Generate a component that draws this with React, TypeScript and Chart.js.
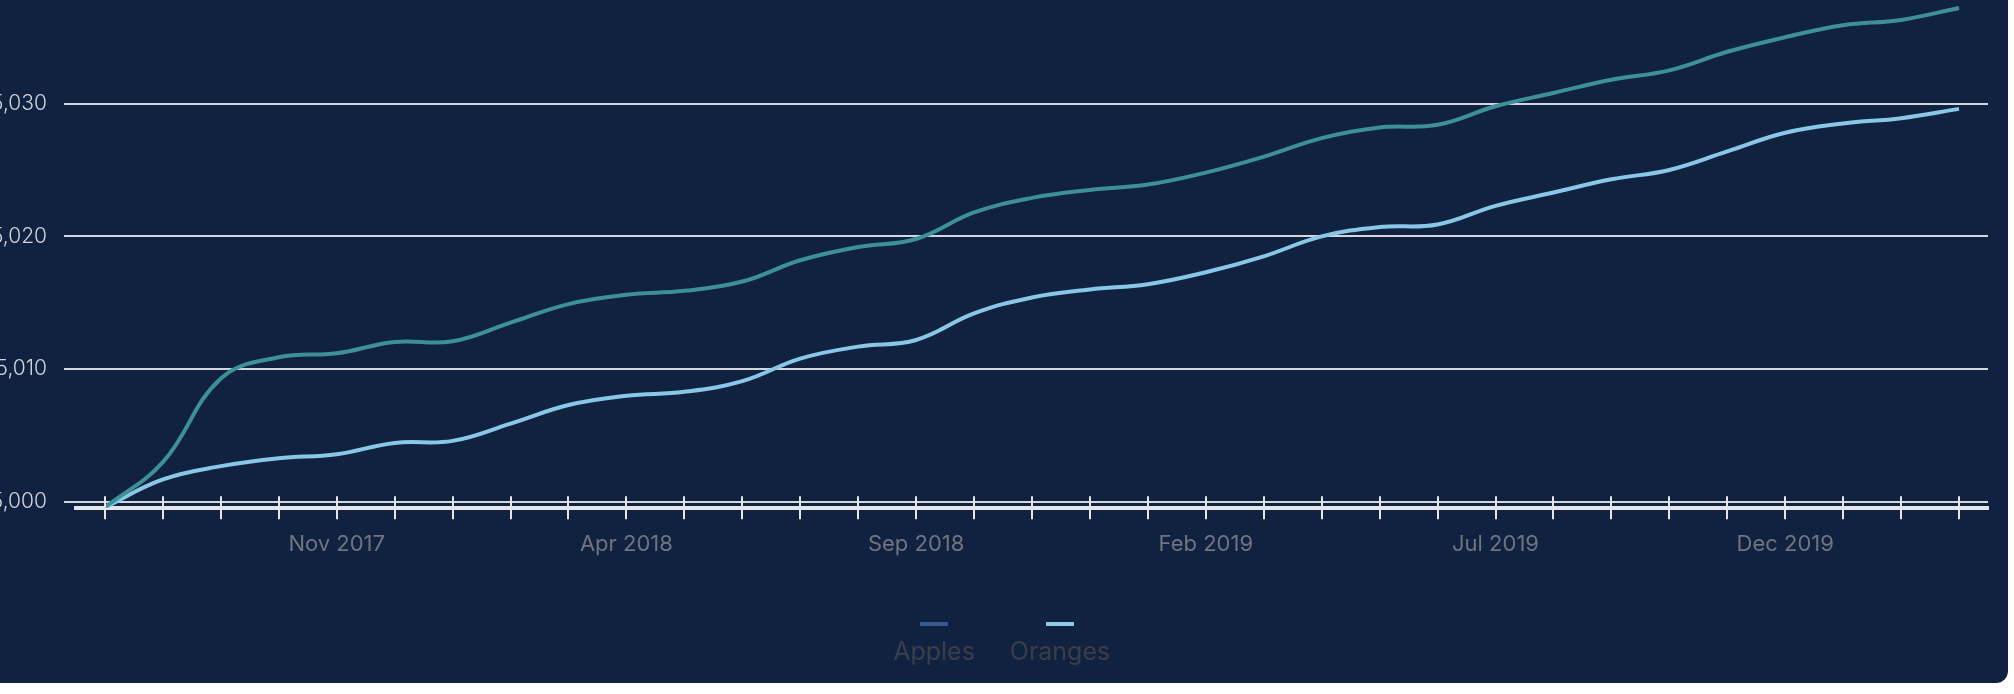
import React, { useEffect, useRef } from "react";
import { Chart, registerables } from "chart.js";

Chart.register(...registerables);

// Monthly categories, Jul 2017 – Mar 2020
const months = [
  "Jul 2017", "Aug 2017", "Sep 2017", "Oct 2017", "Nov 2017", "Dec 2017",
  "Jan 2018", "Feb 2018", "Mar 2018", "Apr 2018", "May 2018", "Jun 2018",
  "Jul 2018", "Aug 2018", "Sep 2018", "Oct 2018", "Nov 2018", "Dec 2018",
  "Jan 2019", "Feb 2019", "Mar 2019", "Apr 2019", "May 2019", "Jun 2019",
  "Jul 2019", "Aug 2019", "Sep 2019", "Oct 2019", "Nov 2019", "Dec 2019",
  "Jan 2020", "Feb 2020", "Mar 2020",
];

const apples = [
  4999.6, 5003.0, 5009.3, 5010.9, 5011.2, 5012.05, 5012.1, 5013.5, 5014.9,
  5015.6, 5015.9, 5016.6, 5018.2, 5019.2, 5019.8, 5021.8, 5022.9, 5023.5,
  5023.9, 5024.8, 5026.0, 5027.4, 5028.2, 5028.4, 5029.8, 5030.8, 5031.8,
  5032.5, 5033.9, 5035.0, 5035.9, 5036.3, 5037.2,
];

const oranges = [
  4999.6, 5001.7, 5002.7, 5003.3, 5003.6, 5004.45, 5004.6, 5005.9, 5007.3,
  5008.0, 5008.3, 5009.1, 5010.8, 5011.7, 5012.2, 5014.2, 5015.4, 5016.0,
  5016.4, 5017.3, 5018.5, 5020.0, 5020.7, 5020.9, 5022.3, 5023.3, 5024.3,
  5025.0, 5026.4, 5027.8, 5028.5, 5028.9, 5029.6,
];

const seriesNames = ["Apples", "Oranges"];
const lineColors = ["#3d8f98", "#88c7e6"];
const swatchColors = ["#35598f", "#8ecae6"];

// value axis range and its labelled ticks
const yMin = 4999.57;
const yMax = 5038.5;
const yTicks = [5000, 5010, 5020, 5030];

// every fifth month carries a label, starting with Nov 2017
const labelEvery = 5;
const labelOffset = 4;

const BG = "#10223f";
const GRID = "#d3d6dc";
const AXIS = "#e4e5e9";
const Y_TEXT = "#cfd3da";
const X_TEXT = "#6f7480";
const LEGEND_TEXT = "#3a3e4b";
const FONT = "Inter, 'Noto Sans', sans-serif";

const CANVAS_W = 2022;
const CANVAS_H = 625;

// short tick marks crossing the bottom axis line at every month
const crossTicks = {
  id: "crossTicks",
  afterDraw(chart: any) {
    const xs = chart.scales.x;
    const { ctx, chartArea } = chart;
    ctx.save();
    ctx.strokeStyle = AXIS;
    ctx.lineWidth = 2;
    xs.ticks.forEach((_: any, i: number) => {
      const px = Math.round(xs.getPixelForTick(i));
      ctx.beginPath();
      ctx.moveTo(px, chartArea.bottom - 11.5);
      ctx.lineTo(px, chartArea.bottom + 11.5);
      ctx.stroke();
    });
    ctx.restore();
  },
};

export default function App() {
  const canvasRef = useRef<HTMLCanvasElement>(null);

  useEffect(() => {
    const series = [apples, oranges];
    const chart = new Chart(canvasRef.current as HTMLCanvasElement, {
      type: "line",
      data: {
        labels: months,
        datasets: seriesNames.map((name, i) => ({
          label: name,
          data: series[i],
          borderColor: lineColors[i],
          backgroundColor: swatchColors[i],
          borderWidth: 4,
          pointRadius: 0,
          pointHoverRadius: 0,
          tension: 0.4,
          fill: false,
        })),
      },
      options: {
        animation: false,
        responsive: false,
        devicePixelRatio: 1,
        layout: { padding: { top: 50.7, right: 20, left: 0, bottom: 0 } },
        plugins: {
          legend: { display: false },
          tooltip: { enabled: false },
        },
        scales: {
          x: {
            type: "category",
            offset: true,
            grid: { display: true, drawOnChartArea: false, drawTicks: false },
            border: { display: true, color: AXIS, width: 4 },
            ticks: {
              autoSkip: false,
              maxRotation: 0,
              minRotation: 0,
              padding: 23,
              color: X_TEXT,
              font: { family: FONT, size: 22 },
              callback: (_v: any, index: number) =>
                index % labelEvery === labelOffset ? months[index] : "",
            },
            afterFit: (scale: any) => {
              scale.height = 57.3;
            },
          },
          y: {
            min: yMin,
            max: yMax,
            border: { display: false },
            grid: {
              color: GRID,
              lineWidth: 2,
              tickLength: 12,
              drawTicks: true,
            },
            ticks: {
              padding: 17,
              color: Y_TEXT,
              font: { family: FONT, size: 21, weight: "300" as any },
              callback: (v: any) => Number(v).toLocaleString("en-US"),
            },
            afterBuildTicks: (scale: any) => {
              scale.ticks = yTicks.map((value) => ({ value }));
            },
            afterFit: (scale: any) => {
              scale.width = 90;
            },
          },
        },
      },
      plugins: [crossTicks],
    });
    return () => chart.destroy();
  }, []);

  return (
    <div
      style={{
        position: "absolute",
        left: -14,
        top: -60,
        width: CANVAS_W,
        height: 743.3,
        background: BG,
        borderRadius: 12,
        overflow: "hidden",
      }}
    >
      <canvas
        ref={canvasRef}
        width={CANVAS_W}
        height={CANVAS_H}
        style={{ display: "block", width: CANVAS_W, height: CANVAS_H }}
      />
      <div
        style={{
          position: "absolute",
          top: 682,
          left: 0,
          width: "100%",
          display: "flex",
          justifyContent: "center",
        }}
      >
        {seriesNames.map((name, i) => (
          <div
            key={name}
            style={{
              width: 126,
              display: "flex",
              flexDirection: "column",
              alignItems: "center",
            }}
          >
            <span
              style={{
                display: "block",
                width: 28,
                height: 4,
                background: swatchColors[i],
              }}
            />
            <span
              style={{
                display: "block",
                marginTop: 10,
                fontFamily: FONT,
                fontSize: 25,
                lineHeight: "30px",
                color: LEGEND_TEXT,
              }}
            >
              {name}
            </span>
          </div>
        ))}
      </div>
    </div>
  );
}
